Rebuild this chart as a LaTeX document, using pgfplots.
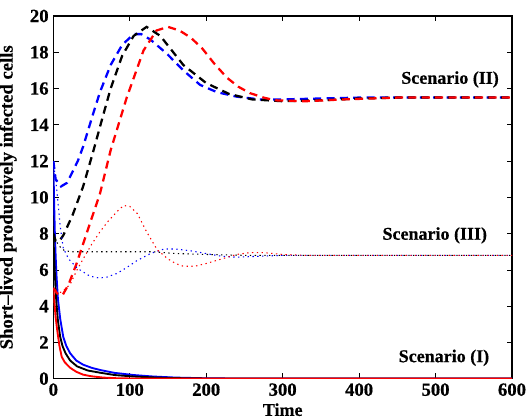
\documentclass[border=0pt]{standalone}
\usepackage{fontspec}
\setmainfont{Liberation Serif}[BoldFeatures={FakeBold=0.6}]
\usepackage{pgfplots}
\pgfplotsset{compat=1.18}
\usetikzlibrary{calc}

\tikzset{
  sI/.style={line width=1.4pt},
  sII/.style={line width=1.7pt, dash pattern=on 6pt off 4pt},
  sIII/.style={line width=0.8pt, dash pattern=on 1pt off 2.6pt},
}
\newcommand{\lblfont}{\fontsize{13.5}{15}\selectfont\bfseries}

\begin{document}
\begin{tikzpicture}
\begin{axis}[name=ax, scale only axis, width=344pt, height=272pt,
  xmin=0, xmax=600, ymin=0, ymax=20,
  xtick={0,100,...,600}, ytick={0,2,...,20},
  xticklabels={\textbf{0},\textbf{100},\textbf{200},\textbf{300},\textbf{400},\textbf{500},\textbf{600}},
  yticklabels={\textbf{0},\textbf{2},\textbf{4},\textbf{6},\textbf{8},\textbf{10},\textbf{12},\textbf{14},\textbf{16},\textbf{18},\textbf{20}},
  tick align=inside, major tick length=4pt,
  axis line style={line width=0.8pt},
  tick style={line width=0.5pt, black},
  tick label style={font=\fontsize{14}{16}\selectfont\bfseries},
  xlabel={Time}, ylabel={Short\textendash lived productively infected cells},
  label style={font=\lblfont},
  ylabel style={font=\fontsize{14}{16}\selectfont\bfseries},
  xlabel style={at={(rel axis cs:0.5,0)}, anchor=north, yshift=-15pt},
  ylabel style={at={(rel axis cs:0,0.5)}, anchor=south, yshift=24pt},
  clip=true]

% Scenario (I), solid
\addplot[sI, blue] coordinates {(0,12) (1,9.8) (2,8) (3,6.8) (4,5.8) (6,4.4) (9,3.3) (13,2.3) (17,1.8) (22,1.4) (30,1.0) (39,0.77) (50,0.6) (61,0.48) (80,0.32) (105,0.2) (130,0.12) (160,0.06) (200,0.02) (250,0.005) (600,0)};
\addplot[sI, black] coordinates {(0,8) (1,6.8) (2,5.8) (3,4.9) (4,4.2) (6,3.2) (9,2.3) (12,1.8) (16,1.4) (22,1.0) (31,0.68) (45,0.45) (61,0.33) (80,0.2) (105,0.12) (130,0.07) (160,0.03) (200,0.01) (600,0)};
\addplot[sI, red] coordinates {(0,5) (1,4.4) (2,3.9) (3,3.4) (5,2.7) (8,1.8) (11,1.2) (15,0.9) (22,0.6) (30,0.38) (39,0.22) (50,0.13) (65,0.06) (85,0.02) (120,0) (600,0)};

% Scenario (II), dashed
\addplot[sII, blue] coordinates {(0,12) (3,11) (10,10.6) (18,10.8) (25,11.4) (32,12.0) (39,12.8) (52,14.6) (61,15.8) (75,17.3) (90,18.4) (105,19.0) (115,19.0) (127,18.7) (149,17.9) (170,17.0) (192,16.2) (214,15.8) (240,15.55) (270,15.4) (300,15.4) (350,15.45) (400,15.5) (600,15.5)};
\addplot[sII, black] coordinates {(0,8) (3,7.6) (8,7.6) (13,7.9) (25,9.0) (39,10.6) (52,12.5) (65,14.5) (75,16.0) (90,17.8) (105,18.9) (122,19.4) (140,18.9) (170,17.3) (200,16.3) (230,15.7) (260,15.4) (300,15.3) (350,15.35) (400,15.45) (450,15.5) (600,15.5)};
\addplot[sII, red] coordinates {(0,5) (5,4.7) (12,4.6) (20,5.2) (30,6.3) (45,8.2) (61,10.2) (75,12.6) (96,15.5) (118,18.1) (135,19.2) (150,19.4) (165,19.2) (180,18.8) (195,18.2) (210,17.4) (227,16.6) (242,16.1) (257,15.75) (275,15.5) (290,15.35) (330,15.3) (380,15.4) (450,15.5) (600,15.5)};

% Scenario (III), dotted
\addplot[sIII, blue] coordinates {(0,12) (3,11) (5,10.2) (9,8.4) (13,7.2) (20,6.6) (31,6.1) (48,5.65) (60,5.55) (70,5.6) (83,5.8) (95,6.1) (109,6.5) (127,6.9) (145,7.15) (160,7.15) (180,7.05) (200,6.9) (220,6.75) (240,6.7) (270,6.75) (300,6.8) (600,6.8)};
\addplot[sIII, black] coordinates {(0,8) (5,7.5) (10,7.2) (15,7.05) (25,7.0) (100,7.0) (130,7.0) (160,6.9) (200,6.85) (250,6.8) (600,6.8)};
\addplot[sIII, red] coordinates {(0,5) (5,4.7) (12,4.8) (22,5.2) (31,6.0) (39,6.6) (50,7.4) (61,8.1) (72,8.7) (83,9.2) (92,9.55) (100,9.5) (110,9.1) (122,8.1) (136,7.1) (150,6.6) (160,6.35) (170,6.2) (185,6.2) (200,6.35) (220,6.6) (240,6.85) (257,6.95) (275,6.95) (300,6.85) (330,6.8) (400,6.8) (600,6.8)};

\node[font=\lblfont] at (axis cs:519,16.5) {Scenario (II)};
\node[font=\lblfont] at (axis cs:499,7.9) {Scenario (III)};
\node[font=\lblfont] at (axis cs:511,1.15) {Scenario (I)};
\end{axis}
\pgfresetboundingbox
\path[use as bounding box] ($(ax.south west)+(-40pt,-30pt)$) rectangle ($(ax.north east)+(10.5pt,12pt)$);
\end{tikzpicture}
\end{document}
